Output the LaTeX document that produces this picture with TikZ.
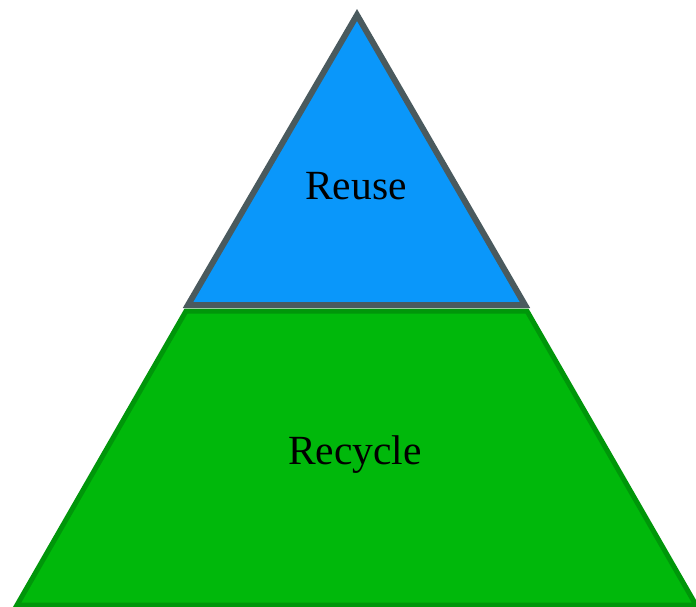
\documentclass[tikz,border=0pt]{standalone}
\usepackage{fontspec}
\setmainfont{Liberation Serif}
\definecolor{reuseblue}{HTML}{0A97FA}
\definecolor{reuseedge}{HTML}{4A5A5E}
\definecolor{recgreen}{HTML}{00B80B}
\definecolor{recedge}{HTML}{00960A}
\tikzset{
  layer/.style={line join=miter},
  label/.style={font=\fontsize{41.5}{50}\selectfont, text=black, inner sep=0pt, anchor=base}
}
\begin{document}
\begin{tikzpicture}[x=1pt,y=-1pt]
\useasboundingbox[fill=white] (0,0) rectangle (696,607);
% Recycle trapezoid
\draw[layer, line width=5pt, draw=recedge, fill=recgreen] (186,311) -- (527,311) -- (696,605) -- (17,605) -- cycle;
% Reuse triangle
\draw[layer, line width=6pt, draw=reuseedge, fill=reuseblue] (357,15) -- (525,305) -- (188,305) -- cycle;
\node[label] (reuse) at (356,199) {Reuse};
\node[label] (recycle) at (355,464) {Recycle};
\end{tikzpicture}
\end{document}
